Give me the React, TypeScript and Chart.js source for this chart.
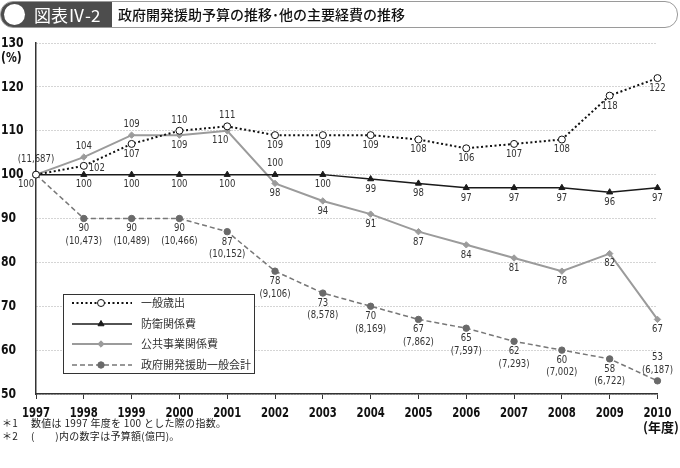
import React, { useEffect, useRef } from 'react';
import { Chart, registerables } from 'chart.js';
import { drawPoint } from 'chart.js/helpers';

Chart.register(...registerables);

// ---- data ----
const years = ['1997', '1998', '1999', '2000', '2001', '2002', '2003', '2004', '2005', '2006', '2007', '2008', '2009', '2010'];
const generalSpending = [100, 102, 107, 110, 111, 109, 109, 109, 108, 106, 107, 108, 118, 122];
const defenseSpending = [100, 100, 100, 100, 100, 100, 100, 99, 98, 97, 97, 97, 96, 97];
const publicWorks = [100, 104, 109, 109, 110, 98, 94, 91, 87, 84, 81, 78, 82, 67];
const odaIndex = [100, 90, 90, 90, 87, 78, 73, 70, 67, 65, 62, 60, 58, 53];
const odaAmount = ['11,687', '10,473', '10,489', '10,466', '10,152', '9,106', '8,578', '8,169', '7,862', '7,597', '7,293', '7,002', '6,722', '6,187'];
const seriesNames = ['一般歳出', '防衛関係費', '公共事業関係費', '政府開発援助一般会計'];
const yMin = 50;
const yMax = 130;
const yStep = 10;

// label placement per point (layout only)
const genPos = ['n', 'r', 'b', 'a', 'a', 'b', 'b', 'b', 'b', 'b', 'b', 'b', 'b', 'b'];
const defPos = ['bl', 'b', 'b', 'b', 'b', 'a', 'b', 'b', 'b', 'b', 'b', 'b', 'b', 'b'];
const pwPos = ['n', 'a', 'a', 'b', 'bl2', 'b', 'b', 'b', 'b', 'b', 'b', 'b', 'b', 'b'];
const odaPos = ['a0', 'b', 'b', 'b', 'b', 'b', 'b', 'b', 'b', 'b', 'b', 'b', 'b', 'a'];

const NARROW = '"Liberation Sans Narrow", "DejaVu Sans Condensed", "Liberation Sans", sans-serif';
const JP = '"Noto Sans CJK JP", "Noto Sans", sans-serif';

function narrowText(ctx: any, text: string, x: number, y: number, sx: number) {
  ctx.save();
  ctx.translate(x, y);
  ctx.scale(sx, 1);
  ctx.fillText(text, 0, 0);
  ctx.restore();
}

const labelPlugin = {
  id: 'pointLabels',
  afterDatasetsDraw(chart: any) {
    const ctx = chart.ctx;
    ctx.save();
    ctx.font = `11px ${NARROW}`;
    ctx.fillStyle = '#333';
    ctx.textAlign = 'center';
    ctx.textBaseline = 'middle';
    const S = 0.86;
    chart.data.datasets.forEach((ds: any, di: number) => {
      const meta = chart.getDatasetMeta(di);
      meta.data.forEach((pt: any, i: number) => {
        const pos = ds.labelPos[i];
        if (pos === 'n') return;
        const x = pt.x;
        const y = pt.y;
        const v = String(ds.data[i]);
        const amt = ds.amounts ? '(' + ds.amounts[i] + ')' : null;
        if (pos === 'a0') {
          narrowText(ctx, amt as string, x, y - 15, S);
          return;
        }
        const lines = amt ? [v, amt] : [v];
        if (pos === 'b') {
          lines.forEach((t, k) => narrowText(ctx, t, x, y + 10 + k * 12.5, S));
        } else if (pos === 'a') {
          lines.forEach((t, k) => narrowText(ctx, t, x, y - 11 - (lines.length - 1 - k) * 12.5, S));
        } else if (pos === 'r') {
          narrowText(ctx, v, x + 13, y + 2, S);
        } else if (pos === 'bl') {
          narrowText(ctx, v, x - 10, y + 10, S);
        } else if (pos === 'bl2') {
          narrowText(ctx, v, x - 7, y + 9, S);
        }
      });
    });
    ctx.restore();
  },
};

const legendPlugin = {
  id: 'boxLegend',
  afterDraw(chart: any) {
    const ctx = chart.ctx;
    ctx.save();
    // tick labels (drawn from the library's scales, condensed)
    const xs = chart.scales.x;
    const ys = chart.scales.y;
    ctx.fillStyle = '#111';
    ctx.font = `bold 14px ${NARROW}`;
    ctx.textBaseline = 'middle';
    ctx.textAlign = 'center';
    xs.ticks.forEach((t: any, i: number) => {
      narrowText(ctx, String(xs.getLabelForValue(t.value)), xs.getPixelForTick(i), 413, 0.8);
    });
    ctx.textAlign = 'left';
    ys.ticks.forEach((t: any, i: number) => {
      narrowText(ctx, String(t.value), 1, ys.getPixelForTick(i), 0.86);
    });
    narrowText(ctx, '(%)', 1, 58, 0.86);
    ctx.font = `bold 13px ${JP}`;
    ctx.textAlign = 'center';
    ctx.fillText('(年度)', 661, 427);

    // legend box
    const bx = 63.5, by = 294.5, bw = 191, bh = 79;
    ctx.fillStyle = '#fff';
    ctx.fillRect(bx, by, bw, bh);
    ctx.strokeStyle = '#333';
    ctx.lineWidth = 1;
    ctx.strokeRect(bx, by, bw, bh);
    const rows = [303, 324, 344, 365];
    chart.data.datasets.forEach((ds: any, i: number) => {
      const y = rows[i];
      ctx.save();
      ctx.strokeStyle = ds.borderColor;
      ctx.lineWidth = ds.borderWidth;
      ctx.setLineDash(ds.borderDash || []);
      ctx.beginPath();
      ctx.moveTo(72, y);
      ctx.lineTo(132, y);
      ctx.stroke();
      ctx.restore();
      ctx.save();
      ctx.fillStyle = ds.pointBackgroundColor;
      ctx.strokeStyle = ds.pointBorderColor;
      ctx.lineWidth = ds.pointBorderWidth;
      drawPoint(ctx, { pointStyle: ds.pointStyle, radius: ds.pointRadius, rotation: 0, borderWidth: ds.pointBorderWidth }, 101, y);
      ctx.restore();
      ctx.fillStyle = '#333';
      ctx.font = `11px ${JP}`;
      ctx.textAlign = 'left';
      ctx.textBaseline = 'middle';
      ctx.fillText(ds.label, 141, y);
    });
    ctx.restore();
  },
};

export default function App() {
  const ref = useRef<HTMLCanvasElement | null>(null);
  useEffect(() => {
    document.body.style.margin = '0';
    const canvas = ref.current!;
    const chart = new Chart(canvas, {
      type: 'line',
      data: {
        labels: years,
        datasets: [
          {
            label: seriesNames[0],
            data: generalSpending,
            labelPos: genPos,
            borderColor: '#111',
            borderWidth: 2,
            borderDash: [2, 2.5],
            pointStyle: 'circle',
            pointRadius: 3.5,
            pointBackgroundColor: '#fff',
            pointBorderColor: '#111',
            pointBorderWidth: 1,
          } as any,
          {
            label: seriesNames[1],
            data: defenseSpending,
            labelPos: defPos,
            borderColor: '#1a1a1a',
            borderWidth: 1.5,
            pointStyle: 'triangle',
            pointRadius: 3.5,
            pointBackgroundColor: '#1a1a1a',
            pointBorderColor: '#1a1a1a',
            pointBorderWidth: 1,
          } as any,
          {
            label: seriesNames[2],
            data: publicWorks,
            labelPos: pwPos,
            borderColor: '#9b9b9b',
            borderWidth: 2,
            pointStyle: 'rectRot',
            pointRadius: 3.2,
            pointBackgroundColor: '#9b9b9b',
            pointBorderColor: '#9b9b9b',
            pointBorderWidth: 1,
          } as any,
          {
            label: seriesNames[3],
            data: odaIndex,
            amounts: odaAmount,
            labelPos: odaPos,
            borderColor: '#777',
            borderWidth: 1.5,
            borderDash: [5, 3],
            pointStyle: 'circle',
            pointRadius: 3.2,
            pointBackgroundColor: '#6a6a6a',
            pointBorderColor: '#6a6a6a',
            pointBorderWidth: 1,
          } as any,
        ],
      },
      options: {
        responsive: false,
        animation: false,
        devicePixelRatio: 1,
        layout: { padding: { top: 43, right: 18, bottom: 0, left: 0 } },
        plugins: { legend: { display: false }, tooltip: { enabled: false } },
        elements: { line: { tension: 0 } },
        scales: {
          x: {
            type: 'category',
            offset: false,
            grid: { display: true, drawOnChartArea: false, drawTicks: true, tickLength: 5, color: '#333', lineWidth: 1 },
            border: { display: true, color: '#333', width: 1.5 },
            ticks: {
              autoSkip: false,
              maxRotation: 0,
              padding: 5,
              color: 'rgba(0,0,0,0)',
              font: { family: NARROW, size: 14, weight: 'bold' },
            },
            afterFit: (s: any) => { s.height = 74; },
          },
          y: {
            min: yMin,
            max: yMax,
            grid: { display: true, drawTicks: false, color: '#aaa', lineWidth: 1 },
            border: { display: true, color: '#333', width: 1.5, dash: [1, 2] },
            ticks: {
              stepSize: yStep,
              crossAlign: 'far',
              padding: 0,
              color: 'rgba(0,0,0,0)',
              font: { family: NARROW, size: 14, weight: 'bold' },
            },
            afterFit: (s: any) => { s.width = 36; },
          },
        },
      } as any,
      plugins: [labelPlugin, legendPlugin],
    });
    return () => chart.destroy();
  }, []);

  return (
    <div style={{ position: 'absolute', left: 0, top: 0, width: 680, height: 468, background: '#fff', overflow: 'hidden' }}>
      <canvas ref={ref} width={680} height={468} style={{ position: 'absolute', left: 0, top: 0 }} />
      <div
        style={{
          position: 'absolute', left: 0, top: 1, width: 676, height: 25,
          border: '1px solid #9a9a9a', borderRadius: 13, background: '#fff', overflow: 'hidden',
          fontFamily: JP,
        }}
      >
        <div style={{ position: 'absolute', left: 0, top: 0, width: 111, height: 25, background: '#4d4d4d' }} />
        <div style={{ position: 'absolute', left: 3, top: 2, width: 21, height: 21, borderRadius: '50%', background: '#fff' }} />
        <div style={{ position: 'absolute', left: 33, top: 0, height: 25, lineHeight: '25px', color: '#fff', fontSize: 17 }}>図表Ⅳ-2</div>
        <div style={{ position: 'absolute', left: 117, top: 0, height: 25, lineHeight: '25px', color: '#111', fontSize: 14, fontWeight: 500 }}>
          政府開発援助予算の推移･他の主要経費の推移
        </div>
      </div>
      <div style={{ position: 'absolute', left: 2, top: 416, fontFamily: JP, fontSize: 10, lineHeight: '13px', color: '#222', letterSpacing: 0.3 }}>
        <div><span style={{ display: 'inline-block', width: 29 }}>＊1</span>数値は 1997 年度を 100 とした際の指数。</div>
        <div><span style={{ display: 'inline-block', width: 29 }}>＊2</span>(　　)内の数字は予算額(億円)。</div>
      </div>
    </div>
  );
}
